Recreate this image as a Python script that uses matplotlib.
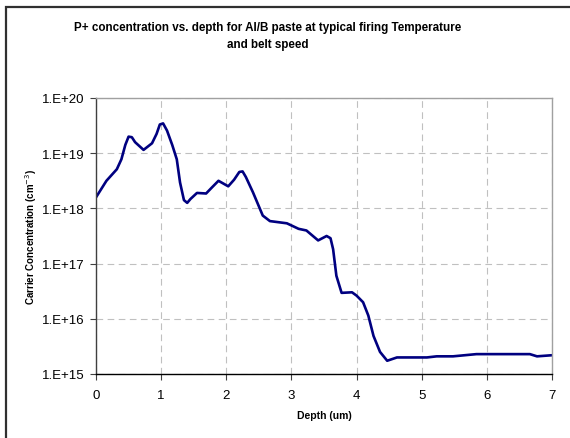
import matplotlib.pyplot as plt
import numpy as np
from matplotlib.patches import Rectangle
from matplotlib.ticker import FixedLocator, FuncFormatter, NullLocator

plt.rcParams['font.family'] = ['Liberation Sans', 'DejaVu Sans']

# depth (um) and log10 of carrier concentration
depth = [0.0, 0.16, 0.32, 0.39, 0.45, 0.50, 0.55, 0.60, 0.73, 0.86, 0.93, 0.98,
         1.03, 1.09, 1.17, 1.24, 1.29, 1.35, 1.40, 1.45, 1.55, 1.69, 1.78, 1.88,
         2.03, 2.12, 2.20, 2.25, 2.30, 2.41, 2.56, 2.67, 2.93, 3.11, 3.23, 3.41,
         3.54, 3.60, 3.64, 3.69, 3.77, 3.93, 4.00, 4.10, 4.18, 4.26, 4.36, 4.47,
         4.62, 5.08, 5.23, 5.48, 5.84, 6.66, 6.77, 7.0]
log_conc = [18.20, 18.50, 18.71, 18.89, 19.15, 19.30, 19.29, 19.20, 19.06, 19.18,
            19.35, 19.52, 19.54, 19.41, 19.15, 18.89, 18.47, 18.15, 18.10, 18.17,
            18.28, 18.27, 18.38, 18.50, 18.40, 18.52, 18.66, 18.67, 18.57, 18.29,
            17.87, 17.77, 17.73, 17.63, 17.60, 17.42, 17.50, 17.46, 17.26, 16.78,
            16.47, 16.48, 16.42, 16.30, 16.06, 15.69, 15.40, 15.24, 15.30, 15.30,
            15.32, 15.32, 15.36, 15.36, 15.32, 15.34]

x_ticks = [0, 1, 2, 3, 4, 5, 6, 7]
y_ticks = [1e15, 1e16, 1e17, 1e18, 1e19, 1e20]

fig = plt.figure(figsize=(5.7, 4.39), dpi=100)
# outer chart frame
fig.patches.append(Rectangle((5.5 / 570, -0.1), 1.2, 1 - 8 / 439 + 0.1,
                             transform=fig.transFigure, fill=False,
                             edgecolor='#303030', linewidth=1.6))

ax = fig.add_axes([96 / 570, 1 - 375 / 439, 456 / 570, 276 / 439])
conc = 10 ** np.array(log_conc)
ax.plot(depth, conc, color='#000080', linewidth=1.9, solid_joinstyle='round')

ax.set_yscale('log')
ax.set_xlim(0, 7)
ax.set_ylim(1e15, 1e20)
ax.xaxis.set_major_locator(FixedLocator(x_ticks))
ax.yaxis.set_major_locator(FixedLocator(y_ticks))
ax.yaxis.set_minor_locator(NullLocator())
ax.yaxis.set_major_formatter(FuncFormatter(lambda v, p: '1.E+%d' % round(np.log10(v))))
ax.tick_params(labelsize=9.5, length=4, width=0.8, color='#404040')
ax.tick_params(axis='x', pad=7)
ax.tick_params(axis='y', pad=4)

ax.grid(True, color='#c0c0c0', linestyle=(0, (6, 4)), linewidth=0.8)
ax.set_axisbelow(True)
ax.spines['top'].set_color('#a0a0a0')
ax.spines['right'].set_color('#a0a0a0')
ax.spines['left'].set_color('#404040')
ax.spines['bottom'].set_color('black')
for s in ax.spines.values():
    s.set_linewidth(1.0)

ax.set_xlabel('Depth (um)', fontsize=7.5, fontweight='bold', labelpad=6)
ax.set_ylabel('Carrier Concentration (cm$^{-3}$)', fontsize=7, fontweight='bold', labelpad=2)
fig.text(268 / 570, 1 - 36.5 / 439,
         'P+ concentration vs. depth for Al/B paste at typical firing Temperature\nand belt speed',
         ha='center', va='center', fontsize=8.4, fontweight='bold', linespacing=1.45)

fig.savefig('out.png', dpi=100)
